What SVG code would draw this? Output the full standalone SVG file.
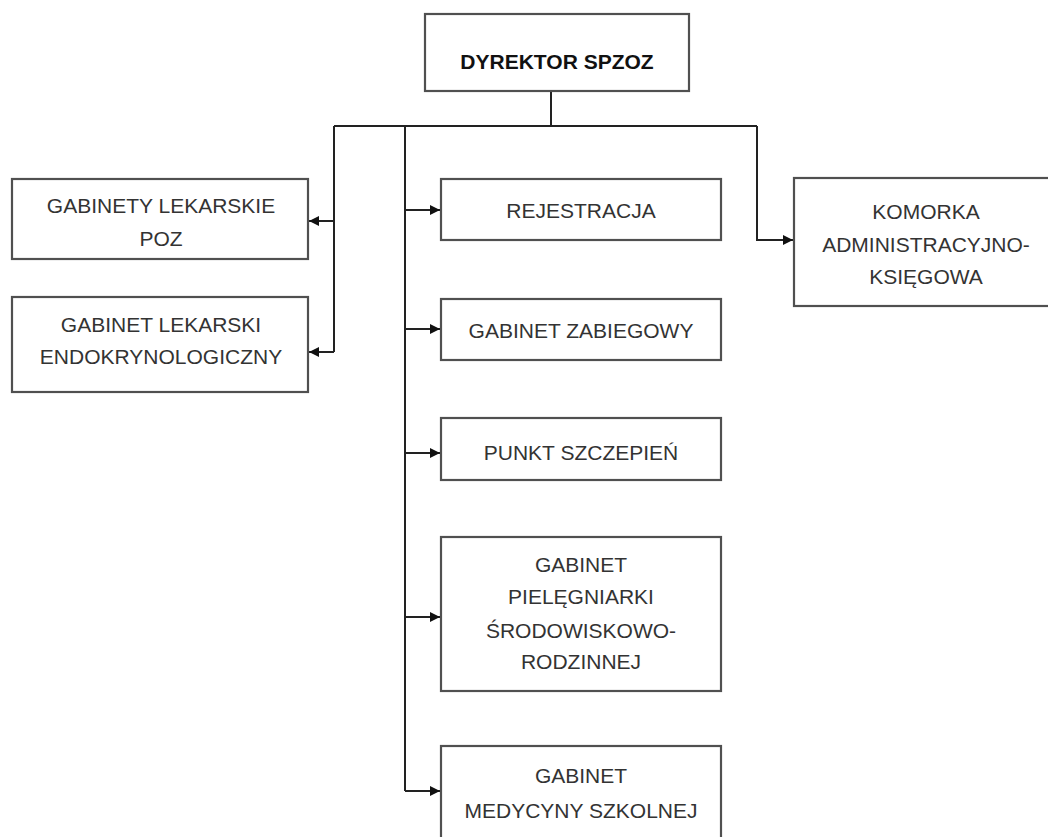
<svg xmlns="http://www.w3.org/2000/svg" width="1048" height="837" viewBox="0 0 1048 837">
<defs>
<style>
.box{fill:#fff;stroke:#505050;stroke-width:2.2}
.t{font-family:"Liberation Sans",Arial,sans-serif;font-size:21px;fill:#333;text-anchor:middle}
.tb{font-family:"Liberation Sans",Arial,sans-serif;font-size:21px;font-weight:bold;fill:#111;text-anchor:middle}
.ln{fill:none;stroke:#222;stroke-width:2}
</style>
<marker id="ah" markerWidth="10" markerHeight="10" refX="10" refY="5" orient="auto" markerUnits="userSpaceOnUse">
<path d="M0,0 L10,5 L0,10 Z" fill="#111"/>
</marker>
</defs>
<rect width="1048" height="837" fill="#fff"/>
<g id="connectors">
<path class="ln" d="M551,91 V126"/>
<path class="ln" d="M334,126 H757"/>
<path class="ln" d="M334,126 V352"/>
<path class="ln" d="M405,126 V791"/>
<path class="ln" d="M334,221 H309" marker-end="url(#ah)"/>
<path class="ln" d="M334,352 H309" marker-end="url(#ah)"/>
<path class="ln" d="M405,210 H440" marker-end="url(#ah)"/>
<path class="ln" d="M405,329 H440" marker-end="url(#ah)"/>
<path class="ln" d="M405,453 H440" marker-end="url(#ah)"/>
<path class="ln" d="M405,617 H440" marker-end="url(#ah)"/>
<path class="ln" d="M405,791 H440" marker-end="url(#ah)"/>
<path class="ln" d="M757,126 V240 H793" marker-end="url(#ah)"/>
</g>
<g id="dyrektor">
<rect class="box" x="425" y="14" width="264" height="77"/>
<text class="tb" x="557" y="69">DYREKTOR SPZOZ</text>
</g>
<g id="gabinety-poz">
<rect class="box" x="12" y="179" width="296" height="80"/>
<text class="t" x="161" y="213">GABINETY LEKARSKIE</text>
<text class="t" x="161" y="246">POZ</text>
</g>
<g id="gabinet-endo">
<rect class="box" x="12" y="297" width="296" height="95"/>
<text class="t" x="161" y="332">GABINET LEKARSKI</text>
<text class="t" x="161" y="364">ENDOKRYNOLOGICZNY</text>
</g>
<g id="rejestracja">
<rect class="box" x="441" y="179" width="280" height="61"/>
<text class="t" x="581" y="218">REJESTRACJA</text>
</g>
<g id="zabiegowy">
<rect class="box" x="441" y="299" width="280" height="61"/>
<text class="t" x="581" y="338">GABINET ZABIEGOWY</text>
</g>
<g id="szczepien">
<rect class="box" x="441" y="418" width="280" height="62"/>
<text class="t" x="581" y="460">PUNKT SZCZEPIEŃ</text>
</g>
<g id="pielegniarki">
<rect class="box" x="441" y="537" width="280" height="154"/>
<text class="t" x="581" y="572">GABINET</text>
<text class="t" x="581" y="604">PIELĘGNIARKI</text>
<text class="t" x="581" y="638">ŚRODOWISKOWO-</text>
<text class="t" x="581" y="669">RODZINNEJ</text>
</g>
<g id="szkolnej">
<rect class="box" x="441" y="746" width="280" height="110"/>
<text class="t" x="581" y="783">GABINET</text>
<text class="t" x="581" y="818">MEDYCYNY SZKOLNEJ</text>
</g>
<g id="komorka">
<rect class="box" x="794" y="178" width="264" height="128"/>
<text class="t" x="926" y="219">KOMORKA</text>
<text class="t" x="926" y="252">ADMINISTRACYJNO-</text>
<text class="t" x="926" y="284">KSIĘGOWA</text>
</g>
</svg>
